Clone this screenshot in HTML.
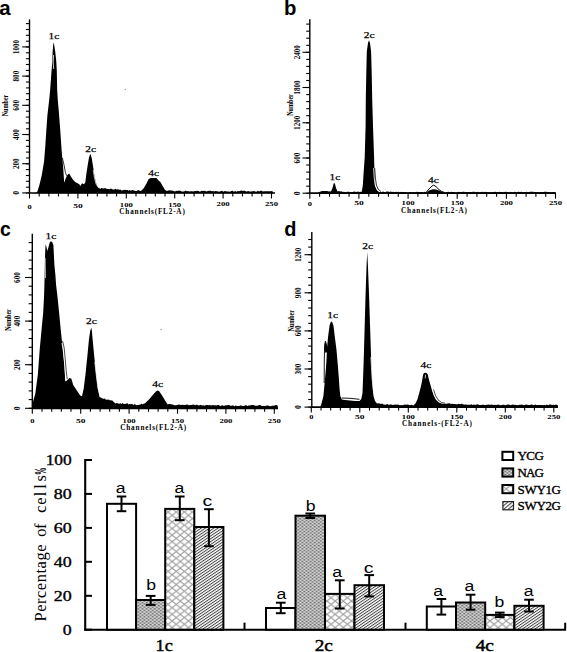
<!DOCTYPE html><html><head><meta charset="utf-8"><style>html,body{margin:0;padding:0;background:#fff;}svg{display:block;}</style></head><body>
<svg width="567" height="652" viewBox="0 0 567 652">
<rect width="567" height="652" fill="#fff"/>
<text x="-0.8" y="15.1" font-family='"Liberation Sans", sans-serif' font-weight="bold" font-size="20.5" text-anchor="start" textLength="11.4" lengthAdjust="spacingAndGlyphs" >a</text>
<line x1="29.5" y1="19.4" x2="29.5" y2="193.5" stroke="#000" stroke-width="1.4"/>
<line x1="25.9" y1="193.0" x2="29.5" y2="193.0" stroke="#000" stroke-width="1.1"/>
<line x1="25.9" y1="187.2" x2="29.5" y2="187.2" stroke="#000" stroke-width="1.1"/>
<line x1="25.9" y1="181.3" x2="29.5" y2="181.3" stroke="#000" stroke-width="1.1"/>
<line x1="25.9" y1="175.5" x2="29.5" y2="175.5" stroke="#000" stroke-width="1.1"/>
<line x1="25.9" y1="169.6" x2="29.5" y2="169.6" stroke="#000" stroke-width="1.1"/>
<line x1="25.9" y1="163.8" x2="29.5" y2="163.8" stroke="#000" stroke-width="1.1"/>
<line x1="25.9" y1="158.0" x2="29.5" y2="158.0" stroke="#000" stroke-width="1.1"/>
<line x1="25.9" y1="152.1" x2="29.5" y2="152.1" stroke="#000" stroke-width="1.1"/>
<line x1="25.9" y1="146.3" x2="29.5" y2="146.3" stroke="#000" stroke-width="1.1"/>
<line x1="25.9" y1="140.4" x2="29.5" y2="140.4" stroke="#000" stroke-width="1.1"/>
<line x1="25.9" y1="134.6" x2="29.5" y2="134.6" stroke="#000" stroke-width="1.1"/>
<line x1="25.9" y1="128.8" x2="29.5" y2="128.8" stroke="#000" stroke-width="1.1"/>
<line x1="25.9" y1="122.9" x2="29.5" y2="122.9" stroke="#000" stroke-width="1.1"/>
<line x1="25.9" y1="117.1" x2="29.5" y2="117.1" stroke="#000" stroke-width="1.1"/>
<line x1="25.9" y1="111.2" x2="29.5" y2="111.2" stroke="#000" stroke-width="1.1"/>
<line x1="25.9" y1="105.4" x2="29.5" y2="105.4" stroke="#000" stroke-width="1.1"/>
<line x1="25.9" y1="99.6" x2="29.5" y2="99.6" stroke="#000" stroke-width="1.1"/>
<line x1="25.9" y1="93.7" x2="29.5" y2="93.7" stroke="#000" stroke-width="1.1"/>
<line x1="25.9" y1="87.9" x2="29.5" y2="87.9" stroke="#000" stroke-width="1.1"/>
<line x1="25.9" y1="82.0" x2="29.5" y2="82.0" stroke="#000" stroke-width="1.1"/>
<line x1="25.9" y1="76.2" x2="29.5" y2="76.2" stroke="#000" stroke-width="1.1"/>
<line x1="25.9" y1="70.4" x2="29.5" y2="70.4" stroke="#000" stroke-width="1.1"/>
<line x1="25.9" y1="64.5" x2="29.5" y2="64.5" stroke="#000" stroke-width="1.1"/>
<line x1="25.9" y1="58.7" x2="29.5" y2="58.7" stroke="#000" stroke-width="1.1"/>
<line x1="25.9" y1="52.8" x2="29.5" y2="52.8" stroke="#000" stroke-width="1.1"/>
<line x1="25.9" y1="47.0" x2="29.5" y2="47.0" stroke="#000" stroke-width="1.1"/>
<line x1="25.9" y1="41.2" x2="29.5" y2="41.2" stroke="#000" stroke-width="1.1"/>
<line x1="25.9" y1="35.3" x2="29.5" y2="35.3" stroke="#000" stroke-width="1.1"/>
<line x1="25.9" y1="29.5" x2="29.5" y2="29.5" stroke="#000" stroke-width="1.1"/>
<line x1="25.9" y1="23.6" x2="29.5" y2="23.6" stroke="#000" stroke-width="1.1"/>
<line x1="22.2" y1="192.9" x2="29.5" y2="192.9" stroke="#000" stroke-width="1.1"/>
<text transform="translate(19.2,192.9) rotate(-90)" x="0" y="0" text-anchor="middle" font-family='"Liberation Serif", serif' font-weight="bold" font-size="7.8" textLength="3.9" lengthAdjust="spacingAndGlyphs">0</text>
<line x1="22.2" y1="163.7" x2="29.5" y2="163.7" stroke="#000" stroke-width="1.1"/>
<text transform="translate(19.2,163.7) rotate(-90)" x="0" y="0" text-anchor="middle" font-family='"Liberation Serif", serif' font-weight="bold" font-size="7.8" textLength="10.8" lengthAdjust="spacingAndGlyphs">200</text>
<line x1="22.2" y1="134.5" x2="29.5" y2="134.5" stroke="#000" stroke-width="1.1"/>
<text transform="translate(19.2,134.5) rotate(-90)" x="0" y="0" text-anchor="middle" font-family='"Liberation Serif", serif' font-weight="bold" font-size="7.8" textLength="10.8" lengthAdjust="spacingAndGlyphs">400</text>
<line x1="22.2" y1="105.3" x2="29.5" y2="105.3" stroke="#000" stroke-width="1.1"/>
<text transform="translate(19.2,105.3) rotate(-90)" x="0" y="0" text-anchor="middle" font-family='"Liberation Serif", serif' font-weight="bold" font-size="7.8" textLength="10.8" lengthAdjust="spacingAndGlyphs">600</text>
<line x1="22.2" y1="76.1" x2="29.5" y2="76.1" stroke="#000" stroke-width="1.1"/>
<text transform="translate(19.2,76.1) rotate(-90)" x="0" y="0" text-anchor="middle" font-family='"Liberation Serif", serif' font-weight="bold" font-size="7.8" textLength="10.8" lengthAdjust="spacingAndGlyphs">800</text>
<line x1="22.2" y1="46.9" x2="29.5" y2="46.9" stroke="#000" stroke-width="1.1"/>
<text transform="translate(19.2,46.9) rotate(-90)" x="0" y="0" text-anchor="middle" font-family='"Liberation Serif", serif' font-weight="bold" font-size="7.8" textLength="14" lengthAdjust="spacingAndGlyphs">1000</text>
<text transform="translate(8.0,105.5) rotate(-90)" x="0" y="0" text-anchor="middle" font-family='"Liberation Serif", serif' font-weight="bold" font-size="7.6" textLength="21.5" lengthAdjust="spacingAndGlyphs">Number</text>
<line x1="29.5" y1="193" x2="275" y2="193" stroke="#000" stroke-width="1.7"/>
<line x1="29.5" y1="193" x2="29.5" y2="198.5" stroke="#000" stroke-width="1.1"/>
<text x="27.4" y="208.6" font-family='"Liberation Serif", serif' font-weight="bold" font-size="6.6" text-anchor="start" textLength="4.2" lengthAdjust="spacingAndGlyphs" >0</text>
<line x1="39.2" y1="193" x2="39.2" y2="196.5" stroke="#000" stroke-width="1.1"/>
<line x1="48.9" y1="193" x2="48.9" y2="196.5" stroke="#000" stroke-width="1.1"/>
<line x1="58.5" y1="193" x2="58.5" y2="196.5" stroke="#000" stroke-width="1.1"/>
<line x1="68.2" y1="193" x2="68.2" y2="196.5" stroke="#000" stroke-width="1.1"/>
<line x1="77.9" y1="193" x2="77.9" y2="198.5" stroke="#000" stroke-width="1.1"/>
<text x="73.2" y="208.0" font-family='"Liberation Serif", serif' font-weight="bold" font-size="6.6" text-anchor="start" textLength="9.5" lengthAdjust="spacingAndGlyphs" >50</text>
<line x1="87.6" y1="193" x2="87.6" y2="196.5" stroke="#000" stroke-width="1.1"/>
<line x1="97.3" y1="193" x2="97.3" y2="196.5" stroke="#000" stroke-width="1.1"/>
<line x1="106.9" y1="193" x2="106.9" y2="196.5" stroke="#000" stroke-width="1.1"/>
<line x1="116.6" y1="193" x2="116.6" y2="196.5" stroke="#000" stroke-width="1.1"/>
<line x1="126.3" y1="193" x2="126.3" y2="198.5" stroke="#000" stroke-width="1.1"/>
<text x="119.8" y="207.4" font-family='"Liberation Serif", serif' font-weight="bold" font-size="6.6" text-anchor="start" textLength="13" lengthAdjust="spacingAndGlyphs" >100</text>
<line x1="136.0" y1="193" x2="136.0" y2="196.5" stroke="#000" stroke-width="1.1"/>
<line x1="145.7" y1="193" x2="145.7" y2="196.5" stroke="#000" stroke-width="1.1"/>
<line x1="155.3" y1="193" x2="155.3" y2="196.5" stroke="#000" stroke-width="1.1"/>
<line x1="165.0" y1="193" x2="165.0" y2="196.5" stroke="#000" stroke-width="1.1"/>
<line x1="174.7" y1="193" x2="174.7" y2="198.5" stroke="#000" stroke-width="1.1"/>
<text x="168.2" y="206.8" font-family='"Liberation Serif", serif' font-weight="bold" font-size="6.6" text-anchor="start" textLength="13" lengthAdjust="spacingAndGlyphs" >150</text>
<line x1="184.4" y1="193" x2="184.4" y2="196.5" stroke="#000" stroke-width="1.1"/>
<line x1="194.1" y1="193" x2="194.1" y2="196.5" stroke="#000" stroke-width="1.1"/>
<line x1="203.7" y1="193" x2="203.7" y2="196.5" stroke="#000" stroke-width="1.1"/>
<line x1="213.4" y1="193" x2="213.4" y2="196.5" stroke="#000" stroke-width="1.1"/>
<line x1="223.1" y1="193" x2="223.1" y2="198.5" stroke="#000" stroke-width="1.1"/>
<text x="216.6" y="206.2" font-family='"Liberation Serif", serif' font-weight="bold" font-size="6.6" text-anchor="start" textLength="13" lengthAdjust="spacingAndGlyphs" >200</text>
<line x1="232.8" y1="193" x2="232.8" y2="196.5" stroke="#000" stroke-width="1.1"/>
<line x1="242.5" y1="193" x2="242.5" y2="196.5" stroke="#000" stroke-width="1.1"/>
<line x1="252.1" y1="193" x2="252.1" y2="196.5" stroke="#000" stroke-width="1.1"/>
<line x1="261.8" y1="193" x2="261.8" y2="196.5" stroke="#000" stroke-width="1.1"/>
<line x1="271.5" y1="193" x2="271.5" y2="198.5" stroke="#000" stroke-width="1.1"/>
<text x="265.0" y="205.6" font-family='"Liberation Serif", serif' font-weight="bold" font-size="6.6" text-anchor="start" textLength="13" lengthAdjust="spacingAndGlyphs" >250</text>
<text x="119.3" y="214.4" font-family='"Liberation Serif", serif' font-weight="bold" font-size="7.2" text-anchor="start" textLength="65.5" lengthAdjust="spacing" >Channels(FL2-A)</text>
<polygon points="33.0,193.3 36.9,192.6 37.7,190.4 39.2,185.8 41.5,176.6 43.0,168.0 44.1,161.3 45.3,146.0 46.3,130.7 47.4,115.3 49.3,99.0 50.1,90.4 50.8,80.9 51.5,71.3 52.3,61.8 52.6,52.3 53.2,45.0 53.6,42.3 54.2,45.0 55.3,52.3 56.3,61.8 56.8,71.3 57.0,80.9 57.2,90.4 57.7,99.0 58.5,108.0 59.1,115.3 60.3,130.7 60.9,140.0 61.6,150.0 62.5,160.0 63.2,168.0 63.7,175.0 64.1,181.4 64.4,182.4 65.5,178.7 67.4,175.0 69.2,173.6 71.0,176.8 72.9,179.6 75.2,181.9 77.5,183.3 79.3,184.2 80.3,186.0 82.1,183.3 83.9,184.2 85.3,182.4 86.2,175.0 87.6,165.8 89.0,157.5 90.4,153.8 91.8,158.4 93.1,166.7 94.5,175.9 95.9,182.4 97.3,186.0 98.7,187.9 100.0,188.1 100.5,188.6 101.8,188.1 103.1,188.4 104.4,188.2 105.7,188.2 107.0,189.0 108.3,189.1 109.6,189.2 110.9,188.5 112.2,189.2 113.5,189.4 114.0,189.7 115.3,188.7 116.6,189.4 117.9,189.2 119.2,189.7 120.5,189.6 121.2,190.4 122.5,190.3 123.8,189.9 125.1,189.7 126.4,190.1 127.7,190.0 128.2,190.8 129.5,190.1 130.8,190.8 132.1,190.1 133.4,190.3 134.7,190.7 136.0,191.0 136.7,191.1 138.0,190.1 139.3,190.6 140.9,191.1 143.7,188.3 146.6,183.3 148.7,179.1 150.8,178.1 156.4,178.1 158.6,180.5 160.7,182.6 162.8,186.2 164.9,189.7 167.0,191.1 168.3,190.4 169.6,190.3 170.9,190.6 172.2,190.4 173.5,191.1 175.0,191.6 176.3,190.7 177.6,191.1 178.9,190.6 180.2,190.7 181.5,191.5 182.8,191.5 184.1,191.4 185.4,190.6 186.7,191.2 188.0,191.0 189.3,191.4 190.6,191.2 191.9,191.3 193.2,191.4 194.5,191.1 195.8,191.1 197.1,190.8 198.4,191.0 200.0,191.8 201.3,190.8 202.6,190.9 203.9,190.7 205.2,191.1 206.5,191.6 207.8,190.9 209.1,190.7 210.4,190.8 211.7,191.2 213.0,191.0 214.3,191.6 215.6,190.9 216.9,191.2 218.2,191.5 219.5,191.7 220.8,190.9 222.1,190.7 223.4,191.7 224.7,190.9 226.0,191.3 227.3,191.6 228.6,191.5 230.0,191.8 231.3,190.9 232.6,190.8 233.9,191.7 235.2,191.1 236.5,191.7 237.8,190.9 239.1,191.3 240.4,190.7 241.7,190.6 243.0,191.1 244.3,190.6 245.6,191.3 246.9,191.5 248.2,191.0 249.5,191.6 250.0,191.6 251.3,191.4 252.6,191.2 253.9,191.0 255.2,191.5 256.5,191.7 257.8,190.8 259.1,191.4 260.4,190.7 261.7,190.8 263.0,191.4 264.3,191.3 265.6,191.3 266.9,191.2 268.2,191.3 269.5,191.3 270.8,191.3 272.1,190.9 273.0,192.0 273.0,193.3" fill="#000"/>
<polyline points="53.6,55 53.2,62 53.7,69" fill="none" stroke="#fff" stroke-width="0.8" stroke-linejoin="round"/>
<polyline points="62.4,158 63.6,163 64.6,168 65.4,172.5 66.6,175.8" fill="none" stroke="#000" stroke-width="0.8" stroke-linejoin="round"/>
<polyline points="93.2,170 94.5,178 96,184 98.5,187.6 101,188.4" fill="none" stroke="#fff" stroke-width="0.7" stroke-linejoin="round"/>
<text x="48.5" y="38.7" font-family='"Liberation Serif", serif' font-weight="normal" font-size="9" text-anchor="start" textLength="10.8" lengthAdjust="spacingAndGlyphs" stroke="#000" stroke-width="0.25">1c</text>
<text x="85.2" y="151.6" font-family='"Liberation Serif", serif' font-weight="normal" font-size="9" text-anchor="start" textLength="10.8" lengthAdjust="spacingAndGlyphs" stroke="#000" stroke-width="0.25">2c</text>
<text x="148.2" y="176.3" font-family='"Liberation Serif", serif' font-weight="normal" font-size="9" text-anchor="start" textLength="10.8" lengthAdjust="spacingAndGlyphs" stroke="#000" stroke-width="0.25">4c</text>
<text x="284.0" y="15.2" font-family='"Liberation Sans", sans-serif' font-weight="bold" font-size="20.5" text-anchor="start" textLength="12.4" lengthAdjust="spacingAndGlyphs" >b</text>
<line x1="309.8" y1="19.3" x2="309.8" y2="193.7" stroke="#000" stroke-width="1.4"/>
<line x1="306.2" y1="193.2" x2="309.8" y2="193.2" stroke="#000" stroke-width="1.1"/>
<line x1="306.2" y1="186.2" x2="309.8" y2="186.2" stroke="#000" stroke-width="1.1"/>
<line x1="306.2" y1="179.1" x2="309.8" y2="179.1" stroke="#000" stroke-width="1.1"/>
<line x1="306.2" y1="172.1" x2="309.8" y2="172.1" stroke="#000" stroke-width="1.1"/>
<line x1="306.2" y1="165.0" x2="309.8" y2="165.0" stroke="#000" stroke-width="1.1"/>
<line x1="306.2" y1="158.0" x2="309.8" y2="158.0" stroke="#000" stroke-width="1.1"/>
<line x1="306.2" y1="150.9" x2="309.8" y2="150.9" stroke="#000" stroke-width="1.1"/>
<line x1="306.2" y1="143.9" x2="309.8" y2="143.9" stroke="#000" stroke-width="1.1"/>
<line x1="306.2" y1="136.8" x2="309.8" y2="136.8" stroke="#000" stroke-width="1.1"/>
<line x1="306.2" y1="129.8" x2="309.8" y2="129.8" stroke="#000" stroke-width="1.1"/>
<line x1="306.2" y1="122.8" x2="309.8" y2="122.8" stroke="#000" stroke-width="1.1"/>
<line x1="306.2" y1="115.7" x2="309.8" y2="115.7" stroke="#000" stroke-width="1.1"/>
<line x1="306.2" y1="108.7" x2="309.8" y2="108.7" stroke="#000" stroke-width="1.1"/>
<line x1="306.2" y1="101.6" x2="309.8" y2="101.6" stroke="#000" stroke-width="1.1"/>
<line x1="306.2" y1="94.6" x2="309.8" y2="94.6" stroke="#000" stroke-width="1.1"/>
<line x1="306.2" y1="87.5" x2="309.8" y2="87.5" stroke="#000" stroke-width="1.1"/>
<line x1="306.2" y1="80.5" x2="309.8" y2="80.5" stroke="#000" stroke-width="1.1"/>
<line x1="306.2" y1="73.5" x2="309.8" y2="73.5" stroke="#000" stroke-width="1.1"/>
<line x1="306.2" y1="66.4" x2="309.8" y2="66.4" stroke="#000" stroke-width="1.1"/>
<line x1="306.2" y1="59.4" x2="309.8" y2="59.4" stroke="#000" stroke-width="1.1"/>
<line x1="306.2" y1="52.3" x2="309.8" y2="52.3" stroke="#000" stroke-width="1.1"/>
<line x1="306.2" y1="45.3" x2="309.8" y2="45.3" stroke="#000" stroke-width="1.1"/>
<line x1="306.2" y1="38.2" x2="309.8" y2="38.2" stroke="#000" stroke-width="1.1"/>
<line x1="306.2" y1="31.2" x2="309.8" y2="31.2" stroke="#000" stroke-width="1.1"/>
<line x1="306.2" y1="24.1" x2="309.8" y2="24.1" stroke="#000" stroke-width="1.1"/>
<line x1="302.5" y1="193.2" x2="309.8" y2="193.2" stroke="#000" stroke-width="1.1"/>
<text transform="translate(300.2,193.2) rotate(-90)" x="0" y="0" text-anchor="middle" font-family='"Liberation Serif", serif' font-weight="bold" font-size="7.8" textLength="3.9" lengthAdjust="spacingAndGlyphs">0</text>
<line x1="302.5" y1="158.0" x2="309.8" y2="158.0" stroke="#000" stroke-width="1.1"/>
<text transform="translate(300.2,158.0) rotate(-90)" x="0" y="0" text-anchor="middle" font-family='"Liberation Serif", serif' font-weight="bold" font-size="7.8" textLength="10.8" lengthAdjust="spacingAndGlyphs">600</text>
<line x1="302.5" y1="122.8" x2="309.8" y2="122.8" stroke="#000" stroke-width="1.1"/>
<text transform="translate(300.2,122.8) rotate(-90)" x="0" y="0" text-anchor="middle" font-family='"Liberation Serif", serif' font-weight="bold" font-size="7.8" textLength="14" lengthAdjust="spacingAndGlyphs">1200</text>
<line x1="302.5" y1="87.5" x2="309.8" y2="87.5" stroke="#000" stroke-width="1.1"/>
<text transform="translate(300.2,87.5) rotate(-90)" x="0" y="0" text-anchor="middle" font-family='"Liberation Serif", serif' font-weight="bold" font-size="7.8" textLength="14" lengthAdjust="spacingAndGlyphs">1800</text>
<line x1="302.5" y1="52.3" x2="309.8" y2="52.3" stroke="#000" stroke-width="1.1"/>
<text transform="translate(300.2,52.3) rotate(-90)" x="0" y="0" text-anchor="middle" font-family='"Liberation Serif", serif' font-weight="bold" font-size="7.8" textLength="14" lengthAdjust="spacingAndGlyphs">2400</text>
<text transform="translate(292.8,105.0) rotate(-90)" x="0" y="0" text-anchor="middle" font-family='"Liberation Serif", serif' font-weight="bold" font-size="7.6" textLength="21.5" lengthAdjust="spacingAndGlyphs">Number</text>
<line x1="309.8" y1="193.2" x2="556" y2="193.2" stroke="#000" stroke-width="1.7"/>
<line x1="309.8" y1="193.2" x2="309.8" y2="198.7" stroke="#000" stroke-width="1.1"/>
<text x="307.7" y="205.6" font-family='"Liberation Serif", serif' font-weight="bold" font-size="6.6" text-anchor="start" textLength="4.2" lengthAdjust="spacingAndGlyphs" >0</text>
<line x1="319.6" y1="193.2" x2="319.6" y2="196.7" stroke="#000" stroke-width="1.1"/>
<line x1="329.5" y1="193.2" x2="329.5" y2="196.7" stroke="#000" stroke-width="1.1"/>
<line x1="339.3" y1="193.2" x2="339.3" y2="196.7" stroke="#000" stroke-width="1.1"/>
<line x1="349.1" y1="193.2" x2="349.1" y2="196.7" stroke="#000" stroke-width="1.1"/>
<line x1="358.9" y1="193.2" x2="358.9" y2="198.7" stroke="#000" stroke-width="1.1"/>
<text x="354.2" y="205.4" font-family='"Liberation Serif", serif' font-weight="bold" font-size="6.6" text-anchor="start" textLength="9.5" lengthAdjust="spacingAndGlyphs" >50</text>
<line x1="368.8" y1="193.2" x2="368.8" y2="196.7" stroke="#000" stroke-width="1.1"/>
<line x1="378.6" y1="193.2" x2="378.6" y2="196.7" stroke="#000" stroke-width="1.1"/>
<line x1="388.4" y1="193.2" x2="388.4" y2="196.7" stroke="#000" stroke-width="1.1"/>
<line x1="398.3" y1="193.2" x2="398.3" y2="196.7" stroke="#000" stroke-width="1.1"/>
<line x1="408.1" y1="193.2" x2="408.1" y2="198.7" stroke="#000" stroke-width="1.1"/>
<text x="401.6" y="205.2" font-family='"Liberation Serif", serif' font-weight="bold" font-size="6.6" text-anchor="start" textLength="13" lengthAdjust="spacingAndGlyphs" >100</text>
<line x1="417.9" y1="193.2" x2="417.9" y2="196.7" stroke="#000" stroke-width="1.1"/>
<line x1="427.8" y1="193.2" x2="427.8" y2="196.7" stroke="#000" stroke-width="1.1"/>
<line x1="437.6" y1="193.2" x2="437.6" y2="196.7" stroke="#000" stroke-width="1.1"/>
<line x1="447.4" y1="193.2" x2="447.4" y2="196.7" stroke="#000" stroke-width="1.1"/>
<line x1="457.2" y1="193.2" x2="457.2" y2="198.7" stroke="#000" stroke-width="1.1"/>
<text x="450.8" y="205.0" font-family='"Liberation Serif", serif' font-weight="bold" font-size="6.6" text-anchor="start" textLength="13" lengthAdjust="spacingAndGlyphs" >150</text>
<line x1="467.1" y1="193.2" x2="467.1" y2="196.7" stroke="#000" stroke-width="1.1"/>
<line x1="476.9" y1="193.2" x2="476.9" y2="196.7" stroke="#000" stroke-width="1.1"/>
<line x1="486.7" y1="193.2" x2="486.7" y2="196.7" stroke="#000" stroke-width="1.1"/>
<line x1="496.6" y1="193.2" x2="496.6" y2="196.7" stroke="#000" stroke-width="1.1"/>
<line x1="506.4" y1="193.2" x2="506.4" y2="198.7" stroke="#000" stroke-width="1.1"/>
<text x="499.9" y="204.8" font-family='"Liberation Serif", serif' font-weight="bold" font-size="6.6" text-anchor="start" textLength="13" lengthAdjust="spacingAndGlyphs" >200</text>
<line x1="516.2" y1="193.2" x2="516.2" y2="196.7" stroke="#000" stroke-width="1.1"/>
<line x1="526.1" y1="193.2" x2="526.1" y2="196.7" stroke="#000" stroke-width="1.1"/>
<line x1="535.9" y1="193.2" x2="535.9" y2="196.7" stroke="#000" stroke-width="1.1"/>
<line x1="545.7" y1="193.2" x2="545.7" y2="196.7" stroke="#000" stroke-width="1.1"/>
<line x1="555.5" y1="193.2" x2="555.5" y2="198.7" stroke="#000" stroke-width="1.1"/>
<text x="549.0" y="204.6" font-family='"Liberation Serif", serif' font-weight="bold" font-size="6.6" text-anchor="start" textLength="13" lengthAdjust="spacingAndGlyphs" >250</text>
<text x="401.0" y="212.9" font-family='"Liberation Serif", serif' font-weight="bold" font-size="7.2" text-anchor="start" textLength="66" lengthAdjust="spacing" >Channels(FL2-A)</text>
<polygon points="318.0,193.3 319.3,192.0 320.7,191.6 322.0,191.1 323.3,191.0 324.6,190.9 325.9,191.1 327.2,191.0 328.5,191.6 329.8,191.3 331.0,191.6 332.5,188.0 333.5,184.0 334.2,182.8 335.0,184.0 336.0,188.0 337.5,191.6 338.8,191.0 340.1,191.4 341.4,191.3 342.7,191.9 344.0,191.8 345.0,192.2 346.3,192.0 347.6,191.8 348.9,191.8 350.2,192.2 351.5,192.0 352.8,192.0 354.1,191.6 355.4,191.7 356.7,192.1 358.0,191.6 359.3,192.1 360.6,191.8 361.5,192.2 362.0,190.3 362.8,185.6 363.6,173.1 364.7,157.5 365.6,126.3 365.8,98.8 366.3,73.0 366.8,51.5 368.0,43.0 369.0,40.2 370.0,43.0 371.1,51.5 371.7,73.0 372.2,98.8 373.0,126.3 374.1,157.5 374.5,173.1 375.0,185.6 376.9,190.3 379.0,192.0 380.3,191.9 381.6,192.0 382.9,191.5 384.2,192.0 385.5,192.0 386.8,191.5 388.1,191.6 389.4,192.0 390.7,191.5 392.0,191.9 393.3,191.8 394.6,192.2 395.9,191.7 397.2,191.9 398.5,191.7 400.0,192.4 401.3,191.8 402.6,192.2 403.9,192.1 405.2,192.3 406.5,192.3 407.8,192.4 409.1,192.2 410.4,192.0 411.7,192.4 413.0,191.9 414.3,192.2 415.6,192.2 416.9,191.8 418.2,192.1 419.5,192.2 420.8,192.1 422.1,191.9 423.4,192.4 424.7,191.7 426.3,192.4 429.1,190.5 431.9,189.6 433.7,189.3 436.2,189.6 439.0,190.6 441.8,191.8 444.6,192.4 445.9,192.4 447.2,191.9 448.5,191.8 449.8,192.4 451.1,191.8 452.4,192.1 453.7,192.0 455.0,192.4 456.3,192.4 457.6,192.3 458.9,191.7 460.2,192.3 461.5,191.9 462.8,191.7 464.1,191.7 465.4,192.2 466.7,192.2 468.0,192.0 469.3,191.9 470.6,192.3 471.9,191.9 473.2,191.8 474.5,191.8 475.8,192.4 477.1,191.7 478.4,192.3 479.7,192.2 481.0,192.0 482.3,191.8 483.6,192.2 484.9,191.8 486.2,192.0 487.5,192.2 488.8,192.2 490.1,192.3 491.4,192.3 492.7,192.3 494.0,191.9 495.3,191.7 496.6,192.3 497.9,192.4 499.2,191.7 500.5,192.0 501.8,192.1 503.1,192.2 504.4,192.0 505.7,191.8 507.0,192.1 508.3,192.1 509.6,192.4 510.9,191.8 512.2,192.4 513.5,192.1 514.8,191.8 516.1,192.3 517.4,191.9 518.7,191.7 520.0,192.0 521.3,191.8 522.6,192.3 523.9,192.1 525.2,192.3 526.5,191.8 527.8,192.2 529.1,192.1 530.4,191.7 531.7,191.8 533.0,191.7 534.3,192.1 535.6,192.1 536.9,191.9 538.2,192.1 539.5,192.2 540.8,192.1 542.1,192.3 543.4,192.1 544.7,191.7 546.0,191.7 547.3,192.0 548.6,192.1 549.9,192.2 551.2,192.3 552.5,192.2 553.8,191.9 555.0,192.4 555.0,193.3" fill="#000"/>
<polyline points="373.6,168 374.2,178 375.2,185 377,189.5 379.5,191.3" fill="none" stroke="#fff" stroke-width="0.8" stroke-linejoin="round"/>
<polyline points="374.7,168 375.4,178 376.4,185 378.2,189.2 381,191.6" fill="none" stroke="#000" stroke-width="0.8" stroke-linejoin="round"/>
<polyline points="426.3,192.2 429.1,188.9 431.9,186.1 433.7,185.1 436.2,186.8 439,189.6 441.8,191.6 444.6,192.4" fill="none" stroke="#000" stroke-width="1" stroke-linejoin="round"/>
<polyline points="430,189.8 433.3,187.6 436.5,188.6" fill="none" stroke="#fff" stroke-width="0.6"/>
<text x="329.5" y="180.3" font-family='"Liberation Serif", serif' font-weight="normal" font-size="9" text-anchor="start" textLength="10.8" lengthAdjust="spacingAndGlyphs" stroke="#000" stroke-width="0.25">1c</text>
<text x="363.7" y="38.4" font-family='"Liberation Serif", serif' font-weight="normal" font-size="9" text-anchor="start" textLength="10.8" lengthAdjust="spacingAndGlyphs" stroke="#000" stroke-width="0.25">2c</text>
<text x="428.0" y="183.1" font-family='"Liberation Serif", serif' font-weight="normal" font-size="9" text-anchor="start" textLength="10.8" lengthAdjust="spacingAndGlyphs" stroke="#000" stroke-width="0.25">4c</text>
<text x="0.0" y="236.2" font-family='"Liberation Sans", sans-serif' font-weight="bold" font-size="20.5" text-anchor="start" textLength="10.8" lengthAdjust="spacingAndGlyphs" >c</text>
<line x1="32.3" y1="233.7" x2="32.3" y2="408.8" stroke="#000" stroke-width="1.4"/>
<line x1="28.699999999999996" y1="408.3" x2="32.3" y2="408.3" stroke="#000" stroke-width="1.1"/>
<line x1="28.699999999999996" y1="399.6" x2="32.3" y2="399.6" stroke="#000" stroke-width="1.1"/>
<line x1="28.699999999999996" y1="390.9" x2="32.3" y2="390.9" stroke="#000" stroke-width="1.1"/>
<line x1="28.699999999999996" y1="382.1" x2="32.3" y2="382.1" stroke="#000" stroke-width="1.1"/>
<line x1="28.699999999999996" y1="373.4" x2="32.3" y2="373.4" stroke="#000" stroke-width="1.1"/>
<line x1="28.699999999999996" y1="364.7" x2="32.3" y2="364.7" stroke="#000" stroke-width="1.1"/>
<line x1="28.699999999999996" y1="356.0" x2="32.3" y2="356.0" stroke="#000" stroke-width="1.1"/>
<line x1="28.699999999999996" y1="347.3" x2="32.3" y2="347.3" stroke="#000" stroke-width="1.1"/>
<line x1="28.699999999999996" y1="338.5" x2="32.3" y2="338.5" stroke="#000" stroke-width="1.1"/>
<line x1="28.699999999999996" y1="329.8" x2="32.3" y2="329.8" stroke="#000" stroke-width="1.1"/>
<line x1="28.699999999999996" y1="321.1" x2="32.3" y2="321.1" stroke="#000" stroke-width="1.1"/>
<line x1="28.699999999999996" y1="312.4" x2="32.3" y2="312.4" stroke="#000" stroke-width="1.1"/>
<line x1="28.699999999999996" y1="303.7" x2="32.3" y2="303.7" stroke="#000" stroke-width="1.1"/>
<line x1="28.699999999999996" y1="294.9" x2="32.3" y2="294.9" stroke="#000" stroke-width="1.1"/>
<line x1="28.699999999999996" y1="286.2" x2="32.3" y2="286.2" stroke="#000" stroke-width="1.1"/>
<line x1="28.699999999999996" y1="277.5" x2="32.3" y2="277.5" stroke="#000" stroke-width="1.1"/>
<line x1="28.699999999999996" y1="268.8" x2="32.3" y2="268.8" stroke="#000" stroke-width="1.1"/>
<line x1="28.699999999999996" y1="260.1" x2="32.3" y2="260.1" stroke="#000" stroke-width="1.1"/>
<line x1="28.699999999999996" y1="251.3" x2="32.3" y2="251.3" stroke="#000" stroke-width="1.1"/>
<line x1="28.699999999999996" y1="242.6" x2="32.3" y2="242.6" stroke="#000" stroke-width="1.1"/>
<line x1="24.999999999999996" y1="408.3" x2="32.3" y2="408.3" stroke="#000" stroke-width="1.1"/>
<text transform="translate(19.6,408.3) rotate(-90)" x="0" y="0" text-anchor="middle" font-family='"Liberation Serif", serif' font-weight="bold" font-size="7.8" textLength="3.9" lengthAdjust="spacingAndGlyphs">0</text>
<line x1="24.999999999999996" y1="364.7" x2="32.3" y2="364.7" stroke="#000" stroke-width="1.1"/>
<text transform="translate(19.6,364.7) rotate(-90)" x="0" y="0" text-anchor="middle" font-family='"Liberation Serif", serif' font-weight="bold" font-size="7.8" textLength="10.8" lengthAdjust="spacingAndGlyphs">200</text>
<line x1="24.999999999999996" y1="321.1" x2="32.3" y2="321.1" stroke="#000" stroke-width="1.1"/>
<text transform="translate(19.6,321.1) rotate(-90)" x="0" y="0" text-anchor="middle" font-family='"Liberation Serif", serif' font-weight="bold" font-size="7.8" textLength="10.8" lengthAdjust="spacingAndGlyphs">400</text>
<line x1="24.999999999999996" y1="277.5" x2="32.3" y2="277.5" stroke="#000" stroke-width="1.1"/>
<text transform="translate(19.6,277.5) rotate(-90)" x="0" y="0" text-anchor="middle" font-family='"Liberation Serif", serif' font-weight="bold" font-size="7.8" textLength="10.8" lengthAdjust="spacingAndGlyphs">600</text>
<text transform="translate(11.0,320.0) rotate(-90)" x="0" y="0" text-anchor="middle" font-family='"Liberation Serif", serif' font-weight="bold" font-size="7.6" textLength="21.5" lengthAdjust="spacingAndGlyphs">Number</text>
<line x1="32.3" y1="408.3" x2="278" y2="408.3" stroke="#000" stroke-width="1.7"/>
<line x1="32.3" y1="408.3" x2="32.3" y2="413.8" stroke="#000" stroke-width="1.1"/>
<text x="30.2" y="422.6" font-family='"Liberation Serif", serif' font-weight="bold" font-size="6.6" text-anchor="start" textLength="4.2" lengthAdjust="spacingAndGlyphs" >0</text>
<line x1="42.0" y1="408.3" x2="42.0" y2="411.8" stroke="#000" stroke-width="1.1"/>
<line x1="51.7" y1="408.3" x2="51.7" y2="411.8" stroke="#000" stroke-width="1.1"/>
<line x1="61.3" y1="408.3" x2="61.3" y2="411.8" stroke="#000" stroke-width="1.1"/>
<line x1="71.0" y1="408.3" x2="71.0" y2="411.8" stroke="#000" stroke-width="1.1"/>
<line x1="80.7" y1="408.3" x2="80.7" y2="413.8" stroke="#000" stroke-width="1.1"/>
<text x="75.9" y="422.6" font-family='"Liberation Serif", serif' font-weight="bold" font-size="6.6" text-anchor="start" textLength="9.5" lengthAdjust="spacingAndGlyphs" >50</text>
<line x1="90.4" y1="408.3" x2="90.4" y2="411.8" stroke="#000" stroke-width="1.1"/>
<line x1="100.1" y1="408.3" x2="100.1" y2="411.8" stroke="#000" stroke-width="1.1"/>
<line x1="109.7" y1="408.3" x2="109.7" y2="411.8" stroke="#000" stroke-width="1.1"/>
<line x1="119.4" y1="408.3" x2="119.4" y2="411.8" stroke="#000" stroke-width="1.1"/>
<line x1="129.1" y1="408.3" x2="129.1" y2="413.8" stroke="#000" stroke-width="1.1"/>
<text x="122.6" y="422.6" font-family='"Liberation Serif", serif' font-weight="bold" font-size="6.6" text-anchor="start" textLength="13" lengthAdjust="spacingAndGlyphs" >100</text>
<line x1="138.8" y1="408.3" x2="138.8" y2="411.8" stroke="#000" stroke-width="1.1"/>
<line x1="148.5" y1="408.3" x2="148.5" y2="411.8" stroke="#000" stroke-width="1.1"/>
<line x1="158.1" y1="408.3" x2="158.1" y2="411.8" stroke="#000" stroke-width="1.1"/>
<line x1="167.8" y1="408.3" x2="167.8" y2="411.8" stroke="#000" stroke-width="1.1"/>
<line x1="177.5" y1="408.3" x2="177.5" y2="413.8" stroke="#000" stroke-width="1.1"/>
<text x="171.0" y="422.6" font-family='"Liberation Serif", serif' font-weight="bold" font-size="6.6" text-anchor="start" textLength="13" lengthAdjust="spacingAndGlyphs" >150</text>
<line x1="187.2" y1="408.3" x2="187.2" y2="411.8" stroke="#000" stroke-width="1.1"/>
<line x1="196.9" y1="408.3" x2="196.9" y2="411.8" stroke="#000" stroke-width="1.1"/>
<line x1="206.5" y1="408.3" x2="206.5" y2="411.8" stroke="#000" stroke-width="1.1"/>
<line x1="216.2" y1="408.3" x2="216.2" y2="411.8" stroke="#000" stroke-width="1.1"/>
<line x1="225.9" y1="408.3" x2="225.9" y2="413.8" stroke="#000" stroke-width="1.1"/>
<text x="219.4" y="422.6" font-family='"Liberation Serif", serif' font-weight="bold" font-size="6.6" text-anchor="start" textLength="13" lengthAdjust="spacingAndGlyphs" >200</text>
<line x1="235.6" y1="408.3" x2="235.6" y2="411.8" stroke="#000" stroke-width="1.1"/>
<line x1="245.3" y1="408.3" x2="245.3" y2="411.8" stroke="#000" stroke-width="1.1"/>
<line x1="254.9" y1="408.3" x2="254.9" y2="411.8" stroke="#000" stroke-width="1.1"/>
<line x1="264.6" y1="408.3" x2="264.6" y2="411.8" stroke="#000" stroke-width="1.1"/>
<line x1="274.3" y1="408.3" x2="274.3" y2="413.8" stroke="#000" stroke-width="1.1"/>
<text x="267.8" y="422.6" font-family='"Liberation Serif", serif' font-weight="bold" font-size="6.6" text-anchor="start" textLength="13" lengthAdjust="spacingAndGlyphs" >250</text>
<text x="120.2" y="430.0" font-family='"Liberation Serif", serif' font-weight="bold" font-size="7.2" text-anchor="start" textLength="66" lengthAdjust="spacing" >Channels(FL2-A)</text>
<polygon points="32.3,408.3 32.3,404.0 33.5,400.0 35.3,393.7 37.9,374.3 39.7,349.6 41.5,330.2 43.2,312.6 44.1,295.0 44.4,285.0 44.9,260.0 45.3,250.0 45.6,244.3 46.2,246.0 47.4,251.0 48.5,247.0 49.8,242.3 50.9,241.3 52.2,242.3 53.4,245.0 53.9,255.0 54.4,265.0 55.4,275.0 56.1,285.0 57.3,295.0 59.1,312.6 60.8,330.2 62.6,347.9 64.4,365.5 65.2,381.3 66.5,381.0 67.9,379.6 69.5,378.0 71.4,378.7 73.2,384.9 76.7,390.2 80.2,395.4 82.0,396.3 83.7,388.4 85.5,374.3 87.3,356.7 89.0,339.0 90.2,331.0 91.3,327.6 91.9,331.0 92.6,339.0 94.3,356.7 96.1,374.3 97.8,388.4 99.6,397.2 100.9,397.4 102.2,398.5 103.5,398.7 104.8,398.4 105.6,399.5 106.9,399.7 108.2,399.4 109.5,399.9 110.8,400.6 112.1,400.3 112.7,401.1 114.0,402.2 115.5,403.6 116.8,403.1 118.1,403.6 119.4,403.7 120.7,403.3 121.2,403.9 122.5,403.0 123.8,404.0 125.1,404.0 126.4,403.6 127.7,403.3 128.2,404.6 129.5,404.0 130.8,404.3 132.1,403.7 133.4,405.0 134.7,404.0 136.0,404.9 136.7,405.3 138.0,404.9 139.3,404.8 140.6,404.4 141.9,403.6 142.3,404.6 143.6,403.7 145.1,403.2 149.4,399.0 153.6,394.0 156.5,391.0 157.8,390.5 159.2,391.2 162.1,395.5 166.3,402.5 167.7,404.6 169.0,404.0 170.3,404.0 171.6,404.5 172.9,404.4 174.2,405.2 174.8,405.3 176.1,405.2 177.4,405.1 178.7,404.5 180.0,404.8 181.3,405.0 182.6,404.7 183.9,404.9 185.2,405.1 186.5,404.5 187.8,404.7 189.1,405.3 190.4,404.9 191.7,405.0 193.0,404.5 194.3,404.7 195.6,405.3 196.9,404.5 198.2,405.6 199.5,405.2 200.8,404.8 202.1,405.6 203.4,405.2 204.7,405.8 206.0,405.1 207.3,405.0 208.6,405.2 209.9,404.9 211.2,405.6 212.5,405.1 213.8,405.3 215.1,405.3 216.4,405.5 217.7,405.1 219.0,405.0 220.0,406.2 221.3,405.6 222.6,405.3 223.9,406.1 225.2,405.3 226.5,405.4 227.8,404.9 229.1,405.1 230.4,405.8 231.7,405.7 233.0,405.3 234.3,406.2 235.6,405.6 236.9,406.0 238.2,406.0 239.5,406.1 240.8,405.2 242.1,406.0 243.4,405.9 244.7,405.7 246.0,405.1 247.3,406.1 248.6,405.6 249.9,405.5 251.2,405.1 252.5,405.1 253.8,405.1 255.1,405.8 256.4,405.7 257.7,405.7 259.0,405.1 260.3,405.0 261.6,406.0 262.9,406.0 264.2,405.9 265.5,405.9 266.8,405.6 268.1,405.4 269.4,405.9 270.7,406.2 272.0,405.7 273.3,405.7 274.6,405.5 275.9,405.0 277.2,405.3 277.8,406.2 277.8,408.3" fill="#000"/>
<polyline points="45.1,258 45.2,268 45.4,278" fill="none" stroke="#fff" stroke-width="0.8" stroke-linejoin="round"/>
<polyline points="61.8,343 63.2,349 64.3,360 65.2,371 66.2,379" fill="none" stroke="#fff" stroke-width="0.8" stroke-linejoin="round"/>
<polyline points="62.6,341 64.2,348 65.3,360 66.2,371 67.2,379" fill="none" stroke="#000" stroke-width="0.7" stroke-linejoin="round"/>
<polyline points="94.8,362 96.4,376 98,388 100,395.5" fill="none" stroke="#fff" stroke-width="0.7" stroke-linejoin="round"/>
<text x="45.6" y="239.0" font-family='"Liberation Serif", serif' font-weight="normal" font-size="9" text-anchor="start" textLength="10.8" lengthAdjust="spacingAndGlyphs" stroke="#000" stroke-width="0.25">1c</text>
<text x="86.0" y="324.2" font-family='"Liberation Serif", serif' font-weight="normal" font-size="9" text-anchor="start" textLength="10.8" lengthAdjust="spacingAndGlyphs" stroke="#000" stroke-width="0.25">2c</text>
<text x="152.2" y="387.0" font-family='"Liberation Serif", serif' font-weight="normal" font-size="9" text-anchor="start" textLength="10.8" lengthAdjust="spacingAndGlyphs" stroke="#000" stroke-width="0.25">4c</text>
<text x="284.3" y="236.2" font-family='"Liberation Sans", sans-serif' font-weight="bold" font-size="20.5" text-anchor="start" textLength="12.2" lengthAdjust="spacingAndGlyphs" >d</text>
<line x1="311.8" y1="232" x2="311.8" y2="407.6" stroke="#000" stroke-width="1.4"/>
<line x1="308.2" y1="407.1" x2="311.8" y2="407.1" stroke="#000" stroke-width="1.1"/>
<line x1="308.2" y1="399.5" x2="311.8" y2="399.5" stroke="#000" stroke-width="1.1"/>
<line x1="308.2" y1="391.9" x2="311.8" y2="391.9" stroke="#000" stroke-width="1.1"/>
<line x1="308.2" y1="384.2" x2="311.8" y2="384.2" stroke="#000" stroke-width="1.1"/>
<line x1="308.2" y1="376.6" x2="311.8" y2="376.6" stroke="#000" stroke-width="1.1"/>
<line x1="308.2" y1="369.0" x2="311.8" y2="369.0" stroke="#000" stroke-width="1.1"/>
<line x1="308.2" y1="361.4" x2="311.8" y2="361.4" stroke="#000" stroke-width="1.1"/>
<line x1="308.2" y1="353.8" x2="311.8" y2="353.8" stroke="#000" stroke-width="1.1"/>
<line x1="308.2" y1="346.1" x2="311.8" y2="346.1" stroke="#000" stroke-width="1.1"/>
<line x1="308.2" y1="338.5" x2="311.8" y2="338.5" stroke="#000" stroke-width="1.1"/>
<line x1="308.2" y1="330.9" x2="311.8" y2="330.9" stroke="#000" stroke-width="1.1"/>
<line x1="308.2" y1="323.3" x2="311.8" y2="323.3" stroke="#000" stroke-width="1.1"/>
<line x1="308.2" y1="315.7" x2="311.8" y2="315.7" stroke="#000" stroke-width="1.1"/>
<line x1="308.2" y1="308.0" x2="311.8" y2="308.0" stroke="#000" stroke-width="1.1"/>
<line x1="308.2" y1="300.4" x2="311.8" y2="300.4" stroke="#000" stroke-width="1.1"/>
<line x1="308.2" y1="292.8" x2="311.8" y2="292.8" stroke="#000" stroke-width="1.1"/>
<line x1="308.2" y1="285.2" x2="311.8" y2="285.2" stroke="#000" stroke-width="1.1"/>
<line x1="308.2" y1="277.6" x2="311.8" y2="277.6" stroke="#000" stroke-width="1.1"/>
<line x1="308.2" y1="269.9" x2="311.8" y2="269.9" stroke="#000" stroke-width="1.1"/>
<line x1="308.2" y1="262.3" x2="311.8" y2="262.3" stroke="#000" stroke-width="1.1"/>
<line x1="308.2" y1="254.7" x2="311.8" y2="254.7" stroke="#000" stroke-width="1.1"/>
<line x1="308.2" y1="247.1" x2="311.8" y2="247.1" stroke="#000" stroke-width="1.1"/>
<line x1="308.2" y1="239.5" x2="311.8" y2="239.5" stroke="#000" stroke-width="1.1"/>
<line x1="304.5" y1="407.1" x2="311.8" y2="407.1" stroke="#000" stroke-width="1.1"/>
<text transform="translate(301.3,407.1) rotate(-90)" x="0" y="0" text-anchor="middle" font-family='"Liberation Serif", serif' font-weight="bold" font-size="7.8" textLength="3.9" lengthAdjust="spacingAndGlyphs">0</text>
<line x1="304.5" y1="369.0" x2="311.8" y2="369.0" stroke="#000" stroke-width="1.1"/>
<text transform="translate(301.3,369.0) rotate(-90)" x="0" y="0" text-anchor="middle" font-family='"Liberation Serif", serif' font-weight="bold" font-size="7.8" textLength="10.8" lengthAdjust="spacingAndGlyphs">300</text>
<line x1="304.5" y1="330.9" x2="311.8" y2="330.9" stroke="#000" stroke-width="1.1"/>
<text transform="translate(301.3,330.9) rotate(-90)" x="0" y="0" text-anchor="middle" font-family='"Liberation Serif", serif' font-weight="bold" font-size="7.8" textLength="10.8" lengthAdjust="spacingAndGlyphs">600</text>
<line x1="304.5" y1="292.8" x2="311.8" y2="292.8" stroke="#000" stroke-width="1.1"/>
<text transform="translate(301.3,292.8) rotate(-90)" x="0" y="0" text-anchor="middle" font-family='"Liberation Serif", serif' font-weight="bold" font-size="7.8" textLength="10.8" lengthAdjust="spacingAndGlyphs">900</text>
<line x1="304.5" y1="254.7" x2="311.8" y2="254.7" stroke="#000" stroke-width="1.1"/>
<text transform="translate(301.3,254.7) rotate(-90)" x="0" y="0" text-anchor="middle" font-family='"Liberation Serif", serif' font-weight="bold" font-size="7.8" textLength="14" lengthAdjust="spacingAndGlyphs">1200</text>
<text transform="translate(294.0,320.8) rotate(-90)" x="0" y="0" text-anchor="middle" font-family='"Liberation Serif", serif' font-weight="bold" font-size="7.6" textLength="21.5" lengthAdjust="spacingAndGlyphs">Number</text>
<line x1="311.8" y1="407.1" x2="558" y2="407.1" stroke="#000" stroke-width="1.7"/>
<line x1="311.3" y1="407.1" x2="311.3" y2="412.6" stroke="#000" stroke-width="1.1"/>
<text x="309.2" y="419.0" font-family='"Liberation Serif", serif' font-weight="bold" font-size="6.6" text-anchor="start" textLength="4.2" lengthAdjust="spacingAndGlyphs" >0</text>
<line x1="321.0" y1="407.1" x2="321.0" y2="410.6" stroke="#000" stroke-width="1.1"/>
<line x1="330.7" y1="407.1" x2="330.7" y2="410.6" stroke="#000" stroke-width="1.1"/>
<line x1="340.4" y1="407.1" x2="340.4" y2="410.6" stroke="#000" stroke-width="1.1"/>
<line x1="350.1" y1="407.1" x2="350.1" y2="410.6" stroke="#000" stroke-width="1.1"/>
<line x1="359.8" y1="407.1" x2="359.8" y2="412.6" stroke="#000" stroke-width="1.1"/>
<text x="355.1" y="419.0" font-family='"Liberation Serif", serif' font-weight="bold" font-size="6.6" text-anchor="start" textLength="9.5" lengthAdjust="spacingAndGlyphs" >50</text>
<line x1="369.5" y1="407.1" x2="369.5" y2="410.6" stroke="#000" stroke-width="1.1"/>
<line x1="379.2" y1="407.1" x2="379.2" y2="410.6" stroke="#000" stroke-width="1.1"/>
<line x1="388.9" y1="407.1" x2="388.9" y2="410.6" stroke="#000" stroke-width="1.1"/>
<line x1="398.6" y1="407.1" x2="398.6" y2="410.6" stroke="#000" stroke-width="1.1"/>
<line x1="408.3" y1="407.1" x2="408.3" y2="412.6" stroke="#000" stroke-width="1.1"/>
<text x="401.8" y="419.0" font-family='"Liberation Serif", serif' font-weight="bold" font-size="6.6" text-anchor="start" textLength="13" lengthAdjust="spacingAndGlyphs" >100</text>
<line x1="418.0" y1="407.1" x2="418.0" y2="410.6" stroke="#000" stroke-width="1.1"/>
<line x1="427.7" y1="407.1" x2="427.7" y2="410.6" stroke="#000" stroke-width="1.1"/>
<line x1="437.4" y1="407.1" x2="437.4" y2="410.6" stroke="#000" stroke-width="1.1"/>
<line x1="447.1" y1="407.1" x2="447.1" y2="410.6" stroke="#000" stroke-width="1.1"/>
<line x1="456.8" y1="407.1" x2="456.8" y2="412.6" stroke="#000" stroke-width="1.1"/>
<text x="450.3" y="419.0" font-family='"Liberation Serif", serif' font-weight="bold" font-size="6.6" text-anchor="start" textLength="13" lengthAdjust="spacingAndGlyphs" >150</text>
<line x1="466.5" y1="407.1" x2="466.5" y2="410.6" stroke="#000" stroke-width="1.1"/>
<line x1="476.2" y1="407.1" x2="476.2" y2="410.6" stroke="#000" stroke-width="1.1"/>
<line x1="485.9" y1="407.1" x2="485.9" y2="410.6" stroke="#000" stroke-width="1.1"/>
<line x1="495.6" y1="407.1" x2="495.6" y2="410.6" stroke="#000" stroke-width="1.1"/>
<line x1="505.3" y1="407.1" x2="505.3" y2="412.6" stroke="#000" stroke-width="1.1"/>
<text x="498.8" y="419.0" font-family='"Liberation Serif", serif' font-weight="bold" font-size="6.6" text-anchor="start" textLength="13" lengthAdjust="spacingAndGlyphs" >200</text>
<line x1="515.0" y1="407.1" x2="515.0" y2="410.6" stroke="#000" stroke-width="1.1"/>
<line x1="524.7" y1="407.1" x2="524.7" y2="410.6" stroke="#000" stroke-width="1.1"/>
<line x1="534.4" y1="407.1" x2="534.4" y2="410.6" stroke="#000" stroke-width="1.1"/>
<line x1="544.1" y1="407.1" x2="544.1" y2="410.6" stroke="#000" stroke-width="1.1"/>
<line x1="553.8" y1="407.1" x2="553.8" y2="412.6" stroke="#000" stroke-width="1.1"/>
<text x="547.3" y="419.0" font-family='"Liberation Serif", serif' font-weight="bold" font-size="6.6" text-anchor="start" textLength="13" lengthAdjust="spacingAndGlyphs" >250</text>
<text x="401.9" y="425.5" font-family='"Liberation Serif", serif' font-weight="bold" font-size="7.2" text-anchor="start" textLength="70" lengthAdjust="spacing" >Channels-(FL2-A)</text>
<polygon points="320.4,407.1 321.9,402.0 323.4,395.9 325.0,379.0 325.8,370.0 326.5,360.0 327.0,348.3 328.0,337.6 329.6,325.3 330.8,322.0 331.9,321.5 333.4,325.3 334.9,337.6 336.5,349.9 337.7,363.7 338.8,377.5 339.5,388.2 340.3,395.9 341.8,399.6 345.0,400.0 350.0,400.5 355.0,401.0 359.5,401.0 361.3,399.0 362.5,393.0 363.7,360.8 365.6,293.7 366.6,265.0 367.2,252.0 367.9,265.0 369.0,293.7 371.2,360.8 372.5,385.0 373.5,396.0 375.0,401.0 377.0,403.5 378.3,403.3 379.6,403.6 380.9,404.0 382.2,403.6 383.5,404.6 385.0,404.8 386.3,404.4 387.6,404.1 388.9,404.9 390.2,404.5 391.5,404.5 392.8,405.0 394.1,404.8 395.4,404.5 396.7,404.8 398.0,404.6 399.3,405.1 400.0,405.3 401.3,405.1 402.6,405.2 403.9,404.8 405.2,404.5 406.5,404.8 407.8,404.6 409.1,405.0 410.0,405.3 411.3,404.7 412.6,405.3 413.4,405.4 415.6,403.2 417.3,399.7 419.1,393.5 420.9,386.5 422.2,380.3 423.1,374.5 424.2,373.0 425.3,372.8 426.5,373.0 427.9,374.5 428.4,377.6 430.1,383.8 431.9,390.0 433.7,395.3 435.9,399.7 438.5,402.3 442.0,403.7 446.4,403.7 447.7,403.6 449.0,403.3 450.3,403.4 450.9,404.1 452.2,403.8 453.5,404.1 454.8,404.0 456.1,404.2 457.4,404.2 458.7,403.7 460.0,404.3 461.3,403.8 462.6,403.9 463.9,404.7 465.2,404.4 466.5,404.4 467.8,404.9 469.1,404.6 470.0,405.0 471.3,404.2 472.6,404.9 473.9,404.5 475.2,404.9 476.5,404.5 477.8,404.3 479.1,404.9 480.4,405.1 481.7,405.0 483.0,404.6 484.3,405.1 485.6,405.1 486.9,404.7 488.2,404.4 489.5,404.8 490.8,404.8 492.1,404.6 493.4,405.1 494.7,404.7 496.0,405.1 497.3,404.7 498.6,404.4 500.0,405.3 501.3,405.3 502.6,404.8 503.9,404.8 505.2,405.2 506.5,405.1 507.8,404.4 509.1,404.4 510.4,405.2 511.7,404.7 513.0,404.4 514.3,405.1 515.6,404.7 516.9,405.3 518.2,405.0 519.5,404.7 520.8,404.8 522.1,404.6 523.4,405.2 524.7,405.0 526.0,404.5 527.3,404.8 528.6,404.9 529.9,404.9 531.2,404.4 532.5,404.8 533.8,405.3 535.1,404.6 536.4,405.0 537.7,404.9 539.0,405.1 540.3,404.9 541.6,405.0 542.9,405.2 544.2,404.7 545.5,405.2 546.8,404.6 548.1,405.3 549.4,404.6 550.7,404.6 552.0,404.9 553.3,404.7 554.6,405.1 555.9,404.6 557.2,404.9 558.0,405.3 558.0,407.1" fill="#000"/>
<polyline points="324.2,383 324.3,360 324.6,346 325.4,341.2 326.1,343.5 327,348.3" fill="none" stroke="#000" stroke-width="0.9"/>
<polygon points="324.4,350 324.7,344 325.4,341.2 326.2,343.5 327.4,347 327.2,352 325.6,353" fill="#000"/>
<polyline points="341.6,398 350,398.3 359.5,399.3" fill="none" stroke="#000" stroke-width="0.9"/>
<polyline points="370.9,357 372,378 373.5,392 376,399.8 379,402.5" fill="none" stroke="#fff" stroke-width="0.7" stroke-linejoin="round"/>
<polyline points="425.6,374.6 425.2,378.5" fill="none" stroke="#fff" stroke-width="0.7" stroke-linejoin="round"/>
<polyline points="432.4,389.5 434.3,395.5 436.8,400 440,402.4" fill="none" stroke="#fff" stroke-width="0.7" stroke-linejoin="round"/>
<polyline points="433.6,389.5 435.5,395.5 438,399.8 441.5,402.5 445,403.2" fill="none" stroke="#000" stroke-width="0.7" stroke-linejoin="round"/>
<text x="327.2" y="318.4" font-family='"Liberation Serif", serif' font-weight="normal" font-size="9" text-anchor="start" textLength="10.8" lengthAdjust="spacingAndGlyphs" stroke="#000" stroke-width="0.25">1c</text>
<text x="362.3" y="248.6" font-family='"Liberation Serif", serif' font-weight="normal" font-size="9" text-anchor="start" textLength="10.8" lengthAdjust="spacingAndGlyphs" stroke="#000" stroke-width="0.25">2c</text>
<text x="420.6" y="368.0" font-family='"Liberation Serif", serif' font-weight="normal" font-size="9" text-anchor="start" textLength="10.8" lengthAdjust="spacingAndGlyphs" stroke="#000" stroke-width="0.25">4c</text>
<circle cx="125.3" cy="89.5" r="0.7" fill="#999"/>
<circle cx="161.1" cy="329.5" r="0.7" fill="#999"/>
<defs>
<pattern id="pNAG" width="4.1" height="3.16" patternUnits="userSpaceOnUse"><rect width="4.1" height="3.16" fill="#b4b4b4"/><rect x="0.2" y="0" width="1.6" height="1.1" fill="#6a6a6a"/><rect x="2.25" y="1.58" width="1.6" height="1.1" fill="#6a6a6a"/><rect x="2.25" y="0" width="1.6" height="1.1" fill="#dedede"/><rect x="0.2" y="1.58" width="1.6" height="1.1" fill="#dedede"/></pattern>
<pattern id="pX" width="8.15" height="6.6" patternUnits="userSpaceOnUse" x="1" y="0.5"><rect width="8.15" height="6.6" fill="#fff"/><path d="M0,0 L8.15,6.6 M8.15,0 L0,6.6" stroke="#9a9a9a" stroke-width="1.0"/></pattern>
<pattern id="pD" width="2.35" height="10" patternUnits="userSpaceOnUse" patternTransform="rotate(56)"><rect width="2.35" height="10" fill="#fff"/><rect width="0.95" height="10" fill="#404040"/></pattern>
<pattern id="pD2" width="2.9" height="10" patternUnits="userSpaceOnUse" patternTransform="rotate(50)"><rect width="2.9" height="10" fill="#fff"/><rect width="1.1" height="10" fill="#4a4a4a"/></pattern>
</defs>
<line x1="85.2" y1="459" x2="85.2" y2="630.7" stroke="#000" stroke-width="2.1"/>
<line x1="84.2" y1="629.7" x2="566" y2="629.7" stroke="#000" stroke-width="2.1"/>
<line x1="85.2" y1="629.7" x2="92" y2="629.7" stroke="#000" stroke-width="2"/>
<text x="62.8" y="634.5" font-family='"Liberation Serif", serif' font-weight="normal" font-size="13.8" text-anchor="start" textLength="8.9" lengthAdjust="spacingAndGlyphs" stroke="#000" stroke-width="0.35">0</text>
<line x1="85.2" y1="595.8" x2="92" y2="595.8" stroke="#000" stroke-width="2"/>
<text x="53.8" y="600.6" font-family='"Liberation Serif", serif' font-weight="normal" font-size="13.8" text-anchor="start" textLength="17.9" lengthAdjust="spacingAndGlyphs" stroke="#000" stroke-width="0.35">20</text>
<line x1="85.2" y1="561.8" x2="92" y2="561.8" stroke="#000" stroke-width="2"/>
<text x="53.8" y="566.6" font-family='"Liberation Serif", serif' font-weight="normal" font-size="13.8" text-anchor="start" textLength="17.9" lengthAdjust="spacingAndGlyphs" stroke="#000" stroke-width="0.35">40</text>
<line x1="85.2" y1="527.9" x2="92" y2="527.9" stroke="#000" stroke-width="2"/>
<text x="53.8" y="532.7" font-family='"Liberation Serif", serif' font-weight="normal" font-size="13.8" text-anchor="start" textLength="17.9" lengthAdjust="spacingAndGlyphs" stroke="#000" stroke-width="0.35">60</text>
<line x1="85.2" y1="493.9" x2="92" y2="493.9" stroke="#000" stroke-width="2"/>
<text x="53.8" y="498.7" font-family='"Liberation Serif", serif' font-weight="normal" font-size="13.8" text-anchor="start" textLength="17.9" lengthAdjust="spacingAndGlyphs" stroke="#000" stroke-width="0.35">80</text>
<line x1="85.2" y1="460.0" x2="92" y2="460.0" stroke="#000" stroke-width="2"/>
<text x="45.7" y="464.8" font-family='"Liberation Serif", serif' font-weight="normal" font-size="13.8" text-anchor="start" textLength="26" lengthAdjust="spacingAndGlyphs" stroke="#000" stroke-width="0.35">100</text>
<line x1="244.5" y1="629.7" x2="244.5" y2="622.7" stroke="#000" stroke-width="2"/>
<line x1="405.5" y1="629.7" x2="405.5" y2="622.7" stroke="#000" stroke-width="2"/>
<line x1="565.2" y1="629.7" x2="565.2" y2="622.7" stroke="#000" stroke-width="2"/>
<text transform="translate(46.2,621.5) rotate(-90)" x="0" y="0" font-family='"Liberation Serif", serif' font-size="16.5" textLength="77" lengthAdjust="spacing">Percentage</text>
<text transform="translate(46.2,618.9) rotate(-90)" x="82.2 89.9" y="0" font-family='"Liberation Serif", serif' font-size="16.5">of</text>
<text transform="translate(46.2,618.9) rotate(-90)" x="106.2 114.1 122.7 130.1 137.3" y="0" font-family='"Liberation Serif", serif' font-size="16.5">cells</text>
<text transform="translate(46.2,475.0) rotate(-90) scale(0.45,1.0)" x="0" y="0" font-family='"Liberation Serif", serif' font-size="17" font-weight="bold">%</text>
<rect x="107.0" y="503.8" width="29.1" height="125.9" fill="#fff" stroke="#000" stroke-width="2"/>
<line x1="121.5" y1="496.5" x2="121.5" y2="511.2" stroke="#000" stroke-width="2"/>
<line x1="116.8" y1="511.2" x2="126.3" y2="511.2" stroke="#000" stroke-width="2"/>
<line x1="116.8" y1="496.5" x2="126.3" y2="496.5" stroke="#000" stroke-width="2"/>
<text x="115.7" y="493.0" font-family='"Liberation Sans", sans-serif' font-weight="normal" font-size="15.4" text-anchor="start" textLength="9.8" lengthAdjust="spacingAndGlyphs" >a</text>
<rect x="136.1" y="600.0" width="29.1" height="29.7" fill="url(#pNAG)" stroke="#000" stroke-width="2"/>
<line x1="150.7" y1="595.9" x2="150.7" y2="604.9" stroke="#000" stroke-width="2"/>
<line x1="145.8" y1="604.9" x2="155.5" y2="604.9" stroke="#000" stroke-width="2"/>
<line x1="145.8" y1="595.9" x2="155.5" y2="595.9" stroke="#000" stroke-width="2"/>
<text x="146.3" y="589.8" font-family='"Liberation Sans", sans-serif' font-weight="normal" font-size="15.4" text-anchor="start" textLength="9.8" lengthAdjust="spacingAndGlyphs" >b</text>
<rect x="165.2" y="508.9" width="29.1" height="120.8" fill="url(#pX)" stroke="#000" stroke-width="2"/>
<line x1="179.8" y1="496.5" x2="179.8" y2="520.2" stroke="#000" stroke-width="2"/>
<line x1="174.9" y1="520.2" x2="184.6" y2="520.2" stroke="#000" stroke-width="2"/>
<line x1="174.9" y1="496.5" x2="184.6" y2="496.5" stroke="#000" stroke-width="2"/>
<text x="174.6" y="492.6" font-family='"Liberation Sans", sans-serif' font-weight="normal" font-size="15.4" text-anchor="start" textLength="9.8" lengthAdjust="spacingAndGlyphs" >a</text>
<rect x="194.3" y="527.0" width="29.1" height="102.7" fill="url(#pD)" stroke="#000" stroke-width="2"/>
<line x1="208.9" y1="509.2" x2="208.9" y2="546.2" stroke="#000" stroke-width="2"/>
<line x1="204.1" y1="546.2" x2="213.7" y2="546.2" stroke="#000" stroke-width="2"/>
<line x1="204.1" y1="509.2" x2="213.7" y2="509.2" stroke="#000" stroke-width="2"/>
<text x="202.6" y="506.4" font-family='"Liberation Sans", sans-serif' font-weight="normal" font-size="15.4" text-anchor="start" textLength="9.8" lengthAdjust="spacingAndGlyphs" >c</text>
<rect x="266.0" y="608.0" width="29.5" height="21.7" fill="#fff" stroke="#000" stroke-width="2"/>
<line x1="280.8" y1="602.7" x2="280.8" y2="613.2" stroke="#000" stroke-width="2"/>
<line x1="275.9" y1="613.2" x2="285.6" y2="613.2" stroke="#000" stroke-width="2"/>
<line x1="275.9" y1="602.7" x2="285.6" y2="602.7" stroke="#000" stroke-width="2"/>
<text x="276.5" y="599.0" font-family='"Liberation Sans", sans-serif' font-weight="normal" font-size="15.4" text-anchor="start" textLength="9.8" lengthAdjust="spacingAndGlyphs" >a</text>
<rect x="295.5" y="515.7" width="29.5" height="114.0" fill="url(#pNAG)" stroke="#000" stroke-width="2"/>
<line x1="310.2" y1="513.5" x2="310.2" y2="518.0" stroke="#000" stroke-width="2"/>
<line x1="305.4" y1="518.0" x2="315.1" y2="518.0" stroke="#000" stroke-width="2"/>
<line x1="305.4" y1="513.5" x2="315.1" y2="513.5" stroke="#000" stroke-width="2"/>
<text x="305.8" y="510.5" font-family='"Liberation Sans", sans-serif' font-weight="normal" font-size="15.4" text-anchor="start" textLength="9.8" lengthAdjust="spacingAndGlyphs" >b</text>
<rect x="325.0" y="593.9" width="29.5" height="35.8" fill="url(#pX)" stroke="#000" stroke-width="2"/>
<line x1="339.8" y1="580.3" x2="339.8" y2="608.5" stroke="#000" stroke-width="2"/>
<line x1="334.9" y1="608.5" x2="344.6" y2="608.5" stroke="#000" stroke-width="2"/>
<line x1="334.9" y1="580.3" x2="344.6" y2="580.3" stroke="#000" stroke-width="2"/>
<text x="332.3" y="576.5" font-family='"Liberation Sans", sans-serif' font-weight="normal" font-size="15.4" text-anchor="start" textLength="9.8" lengthAdjust="spacingAndGlyphs" >a</text>
<rect x="354.5" y="585.2" width="29.5" height="44.5" fill="url(#pD)" stroke="#000" stroke-width="2"/>
<line x1="369.2" y1="575.1" x2="369.2" y2="596.4" stroke="#000" stroke-width="2"/>
<line x1="364.4" y1="596.4" x2="374.1" y2="596.4" stroke="#000" stroke-width="2"/>
<line x1="364.4" y1="575.1" x2="374.1" y2="575.1" stroke="#000" stroke-width="2"/>
<text x="363.7" y="572.6" font-family='"Liberation Sans", sans-serif' font-weight="normal" font-size="15.4" text-anchor="start" textLength="9.8" lengthAdjust="spacingAndGlyphs" >c</text>
<rect x="426.8" y="606.5" width="29.2" height="23.2" fill="#fff" stroke="#000" stroke-width="2"/>
<line x1="441.4" y1="599.0" x2="441.4" y2="614.6" stroke="#000" stroke-width="2"/>
<line x1="436.6" y1="614.6" x2="446.2" y2="614.6" stroke="#000" stroke-width="2"/>
<line x1="436.6" y1="599.0" x2="446.2" y2="599.0" stroke="#000" stroke-width="2"/>
<text x="433.3" y="595.8" font-family='"Liberation Sans", sans-serif' font-weight="normal" font-size="15.4" text-anchor="start" textLength="9.8" lengthAdjust="spacingAndGlyphs" >a</text>
<rect x="456.0" y="602.5" width="29.2" height="27.2" fill="url(#pNAG)" stroke="#000" stroke-width="2"/>
<line x1="470.6" y1="594.7" x2="470.6" y2="609.7" stroke="#000" stroke-width="2"/>
<line x1="465.8" y1="609.7" x2="475.4" y2="609.7" stroke="#000" stroke-width="2"/>
<line x1="465.8" y1="594.7" x2="475.4" y2="594.7" stroke="#000" stroke-width="2"/>
<text x="464.5" y="591.3" font-family='"Liberation Sans", sans-serif' font-weight="normal" font-size="15.4" text-anchor="start" textLength="9.8" lengthAdjust="spacingAndGlyphs" >a</text>
<rect x="485.2" y="614.9" width="29.2" height="14.8" fill="url(#pX)" stroke="#000" stroke-width="2"/>
<line x1="499.8" y1="612.6" x2="499.8" y2="617.1" stroke="#000" stroke-width="2"/>
<line x1="495.0" y1="617.1" x2="504.6" y2="617.1" stroke="#000" stroke-width="2"/>
<line x1="495.0" y1="612.6" x2="504.6" y2="612.6" stroke="#000" stroke-width="2"/>
<text x="494.5" y="607.3" font-family='"Liberation Sans", sans-serif' font-weight="normal" font-size="15.4" text-anchor="start" textLength="9.8" lengthAdjust="spacingAndGlyphs" >b</text>
<rect x="514.4" y="605.8" width="29.2" height="23.9" fill="url(#pD)" stroke="#000" stroke-width="2"/>
<line x1="529.0" y1="599.7" x2="529.0" y2="611.5" stroke="#000" stroke-width="2"/>
<line x1="524.2" y1="611.5" x2="533.8" y2="611.5" stroke="#000" stroke-width="2"/>
<line x1="524.2" y1="599.7" x2="533.8" y2="599.7" stroke="#000" stroke-width="2"/>
<text x="523.8" y="595.8" font-family='"Liberation Sans", sans-serif' font-weight="normal" font-size="15.4" text-anchor="start" textLength="9.8" lengthAdjust="spacingAndGlyphs" >a</text>
<text x="155.6" y="651.2" font-family='"Liberation Serif", serif' font-weight="normal" font-size="16" text-anchor="start" textLength="17.2" lengthAdjust="spacingAndGlyphs" stroke="#000" stroke-width="0.45">1c</text>
<text x="314.7" y="651.2" font-family='"Liberation Serif", serif' font-weight="normal" font-size="16" text-anchor="start" textLength="18.2" lengthAdjust="spacingAndGlyphs" stroke="#000" stroke-width="0.45">2c</text>
<text x="475.7" y="651.2" font-family='"Liberation Serif", serif' font-weight="normal" font-size="16" text-anchor="start" textLength="18.2" lengthAdjust="spacingAndGlyphs" stroke="#000" stroke-width="0.45">4c</text>
<rect x="502.4" y="451.8" width="10.8" height="8.2" fill="#fff" stroke="#000" stroke-width="2"/>
<text x="517.6" y="460.4" font-family='"Liberation Serif", serif' font-weight="normal" font-size="13.0" text-anchor="start" textLength="26.2" lengthAdjust="spacing" stroke="#000" stroke-width="0.35">YCG</text>
<rect x="502.4" y="468.4" width="10.8" height="8.2" fill="url(#pNAG)" stroke="#000" stroke-width="2"/>
<text x="517.6" y="477.0" font-family='"Liberation Serif", serif' font-weight="normal" font-size="13.0" text-anchor="start" textLength="26.4" lengthAdjust="spacing" stroke="#000" stroke-width="0.35">NAG</text>
<rect x="502.4" y="485.0" width="10.8" height="8.2" fill="url(#pX)" stroke="#000" stroke-width="2"/>
<text x="517.6" y="493.6" font-family='"Liberation Serif", serif' font-weight="normal" font-size="13.0" text-anchor="start" textLength="43.4" lengthAdjust="spacing" stroke="#000" stroke-width="0.35">SWY1G</text>
<rect x="502.9" y="501.6" width="10.6" height="8.2" fill="url(#pD2)" stroke="#222" stroke-width="1.2"/>
<text x="517.6" y="510.2" font-family='"Liberation Serif", serif' font-weight="normal" font-size="13.0" text-anchor="start" textLength="43.4" lengthAdjust="spacing" stroke="#000" stroke-width="0.35">SWY2G</text>
</svg></body></html>
